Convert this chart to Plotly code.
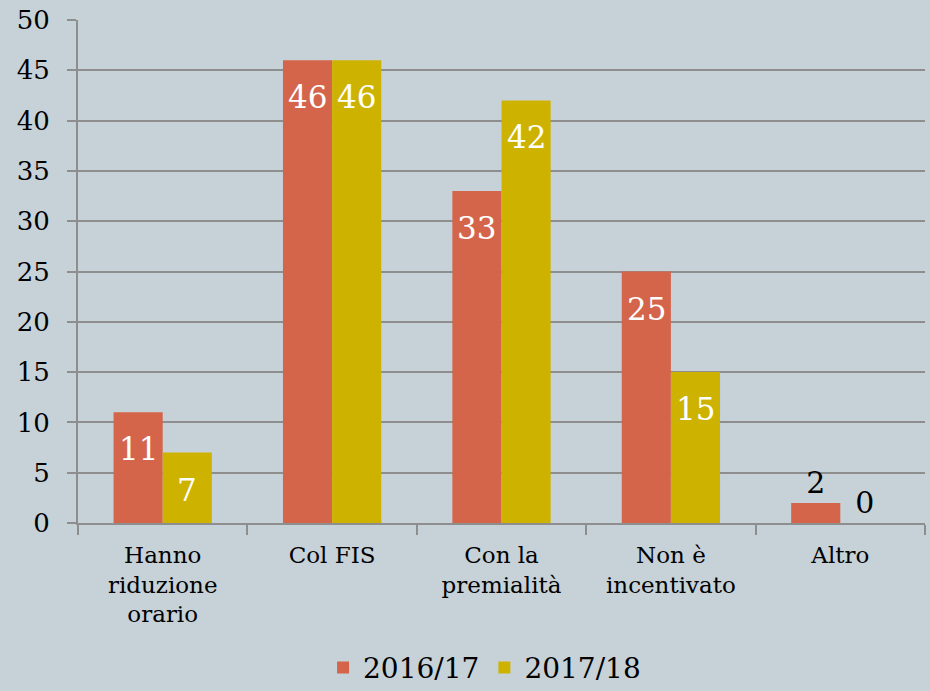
import plotly.graph_objects as go

categories = ["Hanno<br>riduzione<br>orario", "Col FIS", "Con la<br>premialità", "Non è<br>incentivato", "Altro"]
series_names = ["2016/17", "2017/18"]
values_1617 = [11, 46, 33, 25, 2]
values_1718 = [7, 46, 42, 15, 0]
y_ticks = [0, 5, 10, 15, 20, 25, 30, 35, 40, 45, 50]

colors = ["#D4654B", "#CDB300"]
FONT = "DejaVu Serif"
BARGAP = 0.42
PLOT_W = 930 - 78 - 5
bar_px = PLOT_W / len(categories) * (1 - BARGAP) / 2

fig = go.Figure()
annotations = []
for i, (name, vals, col) in enumerate(zip(series_names, [values_1617, values_1718], colors)):
    outside_text = [str(v) if v < 5 else "" for v in vals]
    fig.add_trace(go.Bar(
        x=categories, y=vals, name=name, marker=dict(color=col, line=dict(width=0)),
        text=outside_text, textposition="outside",
        outsidetextfont=dict(color="black", size=30, family=FONT),
        cliponaxis=False,
    ))
    for cat, v in zip(categories, vals):
        if v >= 5:
            annotations.append(dict(
                x=cat, y=v, xref="x", yref="y", text=str(v), showarrow=False,
                yanchor="top", xanchor="center", yshift=-17,
                xshift=(i - 0.5) * bar_px,
                font=dict(color="white", size=31, family=FONT),
            ))

fig.update_layout(
    width=930, height=691,
    paper_bgcolor="#C6D1D8", plot_bgcolor="#C6D1D8",
    barmode="group", bargap=BARGAP, bargroupgap=0,
    margin=dict(l=78, r=5, t=20, b=168, autoexpand=False),
    font=dict(family=FONT, color="black"),
    legend=dict(orientation="h", x=0.48, xanchor="center", y=-0.288, yanchor="middle",
                font=dict(size=28, family=FONT), bgcolor="rgba(0,0,0,0)",
                itemsizing="constant", itemwidth=30),
    showlegend=True,
    annotations=annotations,
)
fig.update_yaxes(
    range=[0, 50], tickvals=y_ticks, showgrid=True, gridcolor="#8E8E8E", gridwidth=2,
    showline=True, linecolor="#8E8E8E", linewidth=2,
    ticks="outside", ticklen=9, tickcolor="#8E8E8E", tickwidth=2,
    tickfont=dict(size=26, family=FONT, color="black"), zeroline=False,
    ticklabelstandoff=12, automargin=False,
)
fig.update_xaxes(
    showline=True, linecolor="#8E8E8E", linewidth=2,
    ticks="outside", tickson="boundaries", ticklen=10, tickcolor="#8E8E8E", tickwidth=2,
    tickfont=dict(size=23, family=FONT, color="black"), ticklabelstandoff=10,
    automargin=False,
)
fig.write_html("out.html", config={"displayModeBar": False},
               post_script="document.body.style.margin='0';")
